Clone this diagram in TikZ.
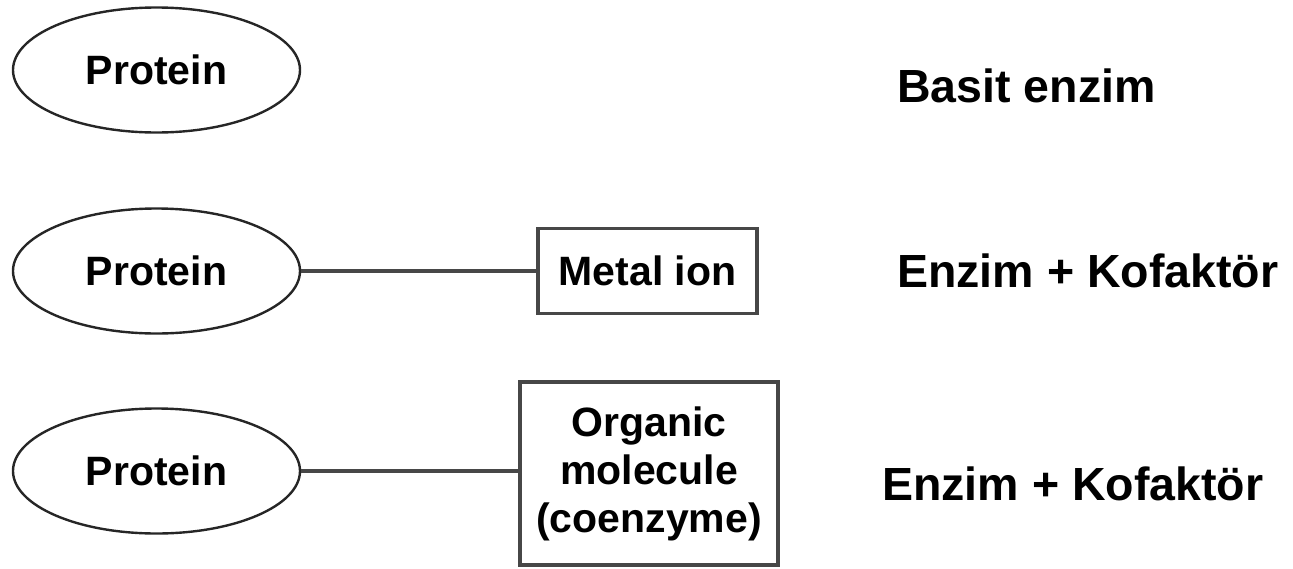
\documentclass[tikz,border=0pt]{standalone}
\usepackage{fontspec}
\setmainfont{Liberation Sans}
\usetikzlibrary{shapes.geometric}
\begin{document}
\begin{tikzpicture}[x=1pt,y=-1pt,
  prot/.style={draw=black!85, line width=2.4pt, ellipse, minimum width=287pt, minimum height=125pt, inner sep=0pt, font=\fontsize{41}{48}\selectfont\bfseries},
  boxnode/.style={draw=black!72, line width=3.6pt, rectangle, inner sep=0pt, align=center, font=\fontsize{41}{48}\selectfont\bfseries},
  link/.style={draw=black!72, line width=3.4pt},
  lbl/.style={anchor=base west, inner sep=0pt, font=\fontsize{46.5}{50}\selectfont\bfseries}
]
\useasboundingbox (0,0) rectangle (1293,568);
\node[prot] (p1) at (156.5,70) {Protein};
\node[prot] (p2) at (156.5,271) {Protein};
\node[prot] (p3) at (156.5,471) {Protein};
\node[boxnode, minimum width=219pt, minimum height=85pt] (metal) at (647.5,271) {Metal ion};
\node[boxnode, minimum width=258pt, minimum height=183pt] (org) at (649,473.5) {Organic\\molecule\\(coenzyme)};
\draw[link] (p2.east) -- (p2.east -| metal.west);
\draw[link] (p3.east) -- (p3.east -| org.west);
\node[lbl] (l1) at (897,102) {Basit enzim};
\node[lbl] (l2) at (897,287) {Enzim + Kofaktör};
\node[lbl] (l3) at (882,500) {Enzim + Kofaktör};
\end{tikzpicture}
\end{document}
